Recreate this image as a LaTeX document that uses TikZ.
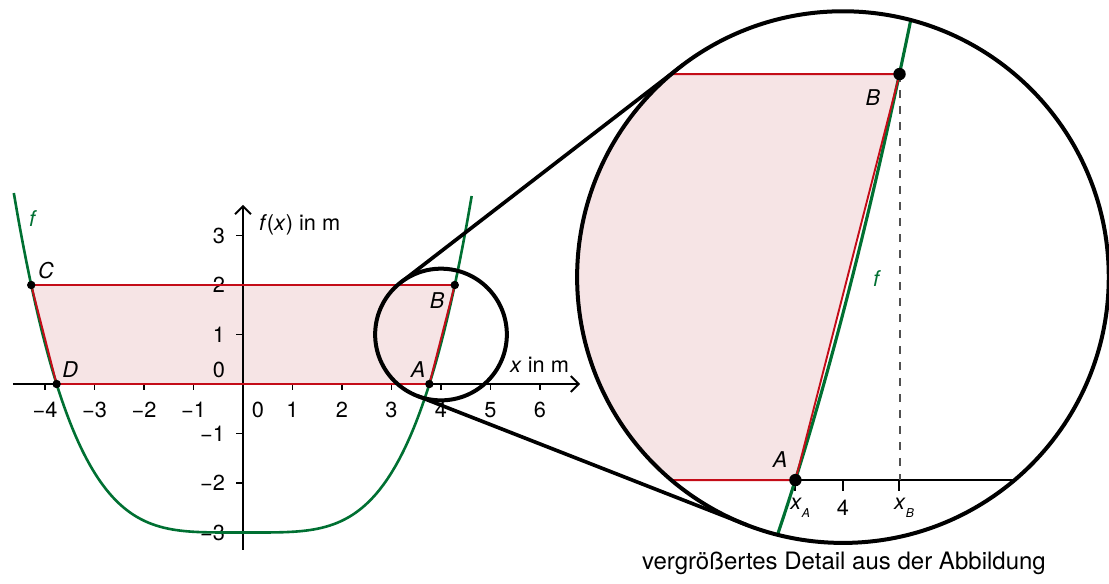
\documentclass[tikz,border=0pt]{standalone}
\usepackage{fontspec}
\setmainfont{TeX Gyre Heros}
\usetikzlibrary{arrows.meta}

\definecolor{kurvengruen}{RGB}{0,112,50}
\definecolor{randrot}{RGB}{196,12,24}
\definecolor{flaechenrosa}{RGB}{246,228,229}
\definecolor{strichgrau}{RGB}{80,80,80}

\def\xa{3.765}
\def\xb{4.278}

\tikzset{
  declare function={f(\x)=(\x)*(\x)*(\x)*(\x)/67-3;},
  achse/.style={line width=1.1pt, -{Straight Barb[length=1.6mm,width=3.2mm]}},
  linie/.style={line width=1.1pt},
  strich/.style={line width=1.1pt},
  kurve/.style={kurvengruen, line width=1.5pt},
  rand/.style={randrot, line width=1.1pt, line join=round},
  flaeche/.style={fill=flaechenrosa},
  gestrichelt/.style={strichgrau, line width=1.1pt, dash pattern=on 4.6pt off 4.6pt},
  punkt/.style={circle, fill=black, inner sep=0pt, minimum size=0.17cm},
  grosspunkt/.style={circle, fill=black, inner sep=0pt, minimum size=0.25cm},
  lupe/.style={circle, draw, line width=2.3pt, inner sep=0pt, outer sep=0pt},
  verbindung/.style={line width=2.1pt},
  xzahl/.style={anchor=center},
  yzahl/.style={anchor=east},
  fname/.style={kurvengruen}
}

\begin{document}
\begin{tikzpicture}[font=\fontsize{12.5}{15}\selectfont]
    \useasboundingbox (-4.909,-4.020) rectangle (17.495,7.758);

    % Points of the area
    \coordinate (C) at (-\xb,2);
    \coordinate (D) at (-\xa,0);
    \coordinate (A) at (\xa,0);
    \coordinate (B) at (\xb,2);
    \fill[flaeche] (C) -- (D) -- (A) -- (B) -- cycle;

    % Axes
    \coordinate (xl) at (-4.65,0);
    \coordinate (xr) at (6.81,0);
    \coordinate (yu) at (0,-3.35);
    \coordinate (yo) at (0,3.62);
    \draw[achse] (xl) -- (xr);
    \draw[achse] (yu) -- (yo);
    \foreach \i in {-4,-3,-2,-1,1,2,3,4,5,6}
        \draw[strich] (\i,0) -- (\i,-0.12);
    \foreach \j in {-3,-2,-1,1,2,3}
        \draw[strich] (0,\j) -- (-0.15,\j);
    \foreach \i/\t [count=\k] in {-4/−4,-3/−3,-2/−2,-1/−1,1/1,2/2,3/3,4/4,5/5,6/6}
        \node[xzahl] (xz\k) at (\i,-0.53) {\t};
    \node[xzahl] (xz0) at (0.3,-0.53) {0};
    \foreach \j/\t [count=\k] in {3/3,2/2,1/1,-1/−1,-2/−2,-3/−3}
        \node[yzahl] (yz\k) at (-0.24,\j) {\t};
    \node[yzahl] (yz0) at (-0.24,0.29) {0};
    \node[anchor=west] (ylab) at (0.2,3.21) {\textit{f}(\textit{x}) in m};
    \node (xlab) at (5.99,0.38) {\textit{x} in m};

    % Graph of f
    \draw[kurve] plot[domain=-4.63:4.62, samples=120, smooth] (\x,{f(\x)});
    \node[fname] (f1) at (-4.24,3.35) {\textit{f}};

    % Area border and points
    \draw[rand] (C) -- (D) -- (A) -- (B) -- cycle;
    \node[punkt] (pA) at (A) {};
    \node[punkt] (pB) at (B) {};
    \node[punkt] (pC) at (C) {};
    \node[punkt] (pD) at (D) {};
    \node (lA) at (3.54,0.30) {\textit{A}};
    \node (lB) at (3.92,1.68) {\textit{B}};
    \node (lC) at (-3.98,2.30) {\textit{C}};
    \node (lD) at (-3.49,0.30) {\textit{D}};

    % Enlarged detail
    \begin{scope}
        \clip (12.12,2.16) circle (5.37);
        \begin{scope}[shift={(12.12,2.16)}, scale=4.1, shift={(-4,-1)}]
            \coordinate (dC) at (-\xb,2);
            \coordinate (dD) at (-\xa,0);
            \coordinate (dA) at (\xa,0);
            \coordinate (dB) at (\xb,2);
            \coordinate (dxl) at (2.5,0);
            \coordinate (dxr) at (5.5,0);
            \coordinate (dxb) at (\xb,0);
            \fill[flaeche] (dC) -- (dD) -- (dA) -- (dB) -- cycle;
            \draw[linie] (dxl) -- (dxr);
            \foreach \i in {\xa,4,\xb}
                \draw[strich] (\i,0) -- (\i,-0.054);
            \draw[gestrichelt] (dB) -- (dxb);
            \draw[kurve, line width=1.8pt] plot[domain=3.5:4.5, samples=60, smooth] (\x,{f(\x)});
            \draw[rand] (dC) -- (dD) -- (dA) -- (dB) -- cycle;
            \node[grosspunkt] (dpA) at (dA) {};
            \node[grosspunkt] (dpB) at (dB) {};
            \node (dlA) at (3.690,0.099) {\textit{A}};
            \node (dlB) at (4.148,1.887) {\textit{B}};
            \node[fname] (f2) at (4.168,0.995) {\textit{f}};
            \node (dxa) at (3.789,-0.138) {\textit{x}\raisebox{-0.7ex}{\scriptsize\textit{A}}};
            \node (dx4) at (4.0,-0.138) {4};
            \node (dxbl) at (4.301,-0.138) {\textit{x}\raisebox{-0.7ex}{\scriptsize\textit{B}}};
        \end{scope}
    \end{scope}

    % Magnifier circles
    \node[lupe, minimum size=2.66cm] (klein) at (4,1) {};
    \node[lupe, minimum size=10.74cm] (gross) at (12.12,2.16) {};
    \draw[verbindung] (klein.127.6) -- (gross.127.6);
    \draw[verbindung] (klein.-111.4) -- (gross.-111.4);

    \node[font=\fontsize{13.8}{16}\selectfont] (bildtext) at (12.14,-3.63) {vergrößertes Detail aus der Abbildung};
\end{tikzpicture}
\end{document}
